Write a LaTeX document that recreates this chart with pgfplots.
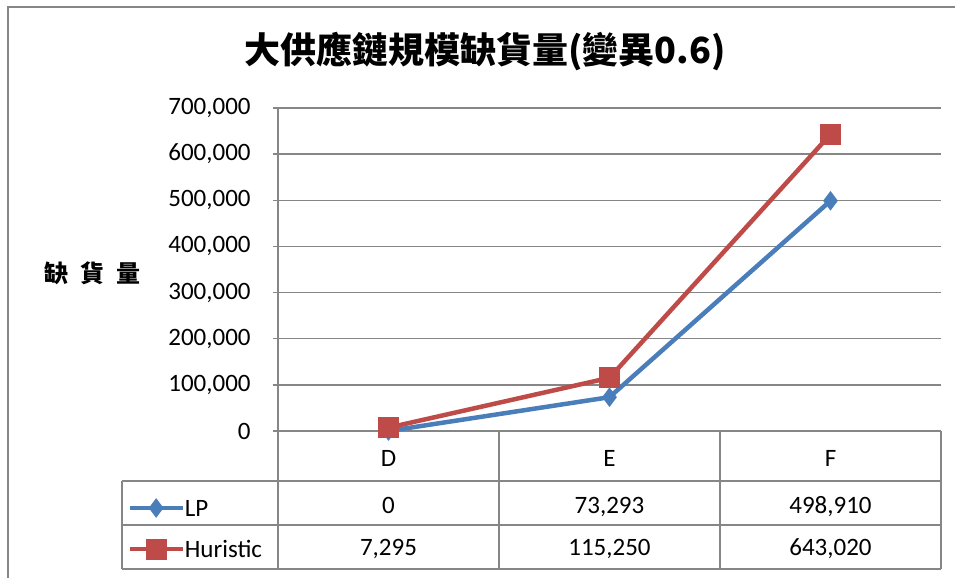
\documentclass[border=0pt]{standalone}
\usepackage{pgfplots}
\usepackage{pgfplotstable}
\pgfplotsset{compat=1.18}
\usepackage{fontspec}
\setmainfont{Carlito}
\newfontfamily\cjk{Noto Sans CJK TC}
\definecolor{gridgray}{RGB}{134,134,134}
\definecolor{lpblue}{RGB}{74,126,187}
\definecolor{hured}{RGB}{190,75,72}
\pgfkeys{/pgf/number format/.cd, fixed, 1000 sep={,}, assume math mode=true}

% shortage per supply-chain size (variance 0.6)
\pgfplotstableread{
x   cat lp     hu
0.5 D   0      7295
1.5 E   73293  115250
2.5 F   498910 643020
}\datatab

\begin{document}
\begin{tikzpicture}
\useasboundingbox (-139pt,-73.5pt) rectangle (338.5pt,215.5pt);
% outer chart frame
\draw[gridgray, line width=1pt] (-135pt,-90pt) -- (-135pt,212pt) -- (345pt,212pt);
\begin{axis}[
  name=ax, at={(0,0)}, anchor=south west,
  scale only axis, width=331.5pt, height=161.5pt,
  xmin=0, xmax=3, ymin=0, ymax=700000,
  axis x line=bottom, axis y line=left,
  axis line style={gridgray, line width=0.75pt, -},
  xtick={0.5,1.5,2.5},
  xticklabels from table={\datatab}{cat},
  ytick={0,100000,...,700000},
  ymajorgrids, grid style={gridgray, line width=0.75pt},
  major tick length=2.5pt, tick align=outside,
  xtick style={draw=none},
  ytick style={gridgray, line width=0.75pt},
  scaled y ticks=false,
  tick label style={font=\fontsize{12.5}{14}\selectfont, text=black},
  yticklabel style={anchor=east, inner sep=0pt, xshift=-11pt},
  xticklabel style={anchor=center, yshift=-11pt},
  title={大供應鏈規模缺貨量(變異0.6)},
  title style={font=\cjk\bfseries\fontsize{18}{20}\selectfont,
    at={(axis description cs:0.31222,1.13622)}, anchor=center},
  ylabel={缺\hspace{6pt}貨\hspace{6pt}量},
  ylabel style={font=\cjk\bfseries\fontsize{12}{14}\selectfont, rotate=-90,
    at={(axis description cs:-0.2805,0.4892)}, anchor=center},
  clip=false,
  legend style={at={(axis description cs:-0.22776,-0.30186)}, anchor=west,
    draw=none, fill=none, inner sep=0pt, row sep=10.5pt, column sep=0pt,
    font=\fontsize{12.5}{14}\selectfont,
    nodes={inner sep=0pt, text height=7pt, text depth=3pt}},
  legend cell align=left,
  legend image code/.code={\draw[mark repeat=2,mark phase=2,#1]
    plot coordinates {(0pt,0pt) (13.25pt,0pt) (26.5pt,0pt)};},
]
\addplot[lpblue, line width=2.25pt, mark=diamond*, mark size=4.5pt,
  mark options={solid, fill=lpblue, line width=0.5pt}]
  table[x=x, y=lp] {\datatab};
\addlegendentry{\raisebox{-2pt}{LP}}
\addplot[hured, line width=2.25pt, mark=square*, mark size=5pt,
  mark options={solid, fill=hured, line width=0.5pt}]
  table[x=x, y=hu] {\datatab};
\addlegendentry{\raisebox{-2pt}{Huristic}}
\end{axis}
% data table beneath the plot
\begin{scope}[gridgray, line width=0.75pt]
  \foreach \c in {0,110.5,221,331.5} \draw (\c pt,0) -- (\c pt,-69pt);
  \draw (-78pt,-25pt) -- (331.5pt,-25pt);
  \draw (-78pt,-47pt) -- (331.5pt,-47pt);
  \draw (-78pt,-69pt) -- (331.5pt,-69pt);
  \draw (-78pt,-25pt) -- (-78pt,-69pt);
\end{scope}
\foreach \i in {0,1,2} {
  \pgfplotstablegetelem{\i}{lp}\of\datatab
  \node[anchor=base, inner sep=0pt, font=\fontsize{12.5}{14}\selectfont]
    at ({(\i*110.5+55.25)*1pt},-41.5pt) {\pgfmathprintnumber{\pgfplotsretval}};
  \pgfplotstablegetelem{\i}{hu}\of\datatab
  \node[anchor=base, inner sep=0pt, font=\fontsize{12.5}{14}\selectfont]
    at ({(\i*110.5+55.25)*1pt},-62.5pt) {\pgfmathprintnumber{\pgfplotsretval}};
}
\end{tikzpicture}
\end{document}
